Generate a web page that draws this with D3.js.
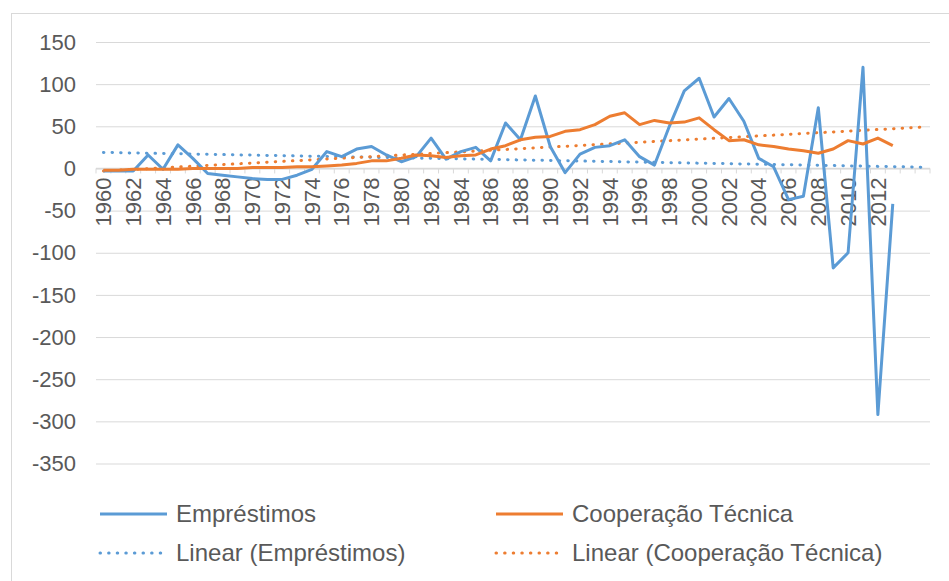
<!DOCTYPE html>
<html>
<head>
<meta charset="utf-8">
<script src="https://cdn.jsdelivr.net/npm/d3@7"></script>
<style>
  html, body { margin: 0; padding: 0; background: #fff; }
  svg { display: block; font-family: "Liberation Sans", Arial, sans-serif; }
</style>
</head>
<body>
<div id="chart"></div>
<script>
// categories: 1960..2015 (last two have no data, only trend)
const years = [1960,1961,1962,1963,1964,1965,1966,1967,1968,1969,
  1970,1971,1972,1973,1974,1975,1976,1977,1978,1979,
  1980,1981,1982,1983,1984,1985,1986,1987,1988,1989,
  1990,1991,1992,1993,1994,1995,1996,1997,1998,1999,
  2000,2001,2002,2003,2004,2005,2006,2007,2008,2009,
  2010,2011,2012,2013,2014,2015];

const emprestimos = [-3,-3,-3,16,-1,28,12,-6,-8,-10,
  -12,-13,-13,-8,-1,20,14,23,26,16,
  8,14,36,11,20,25,9,54,34,86,
  26,-5,17,25,27,34,14,4,50,92,
  107,61,83,56,12,2,-37,-33,72,-118,
  -100,120,-292,-42,null,null];

const cooperacao = [-2,-2,-1,-1,-1,-1,0,0,0,0,
  1,1,1,2,2,3,4,6,9,9,
  12,16,15,13,15,16,23,27,34,37,
  38,44,46,52,62,66,52,57,54,55,
  60,46,33,34,28,26,23,21,18,23,
  33,29,36,27,null,null];

// trend line end points
const trendYears = [1960, 2015];
const trendEmprestimos = [19, 1.5];
const trendCooperacao = [-3, 49];

const yTicks = [150,100,50,0,-50,-100,-150,-200,-250,-300,-350];
const xTickLabels = years.map(y => (y % 2 === 0 && y <= 2012) ? String(y) : '');

const W = 949, H = 581;
const blue = '#5B9BD5', orange = '#ED7D31';
const textColor = '#595959', gridColor = '#d9d9d9';

const svg = d3.select('#chart').append('svg')
  .attr('width', W).attr('height', H);

// chart area border
svg.append('rect')
  .attr('x', 11.5).attr('y', 13.5)
  .attr('width', 960).attr('height', 600)
  .attr('fill', 'none').attr('stroke', gridColor).attr('stroke-width', 1);

const x = d3.scaleBand().domain(years).range([96, 930]);
const y = d3.scaleLinear().domain([-350, 150]).range([463.5, 42]);
const cx = d => x(d) + x.bandwidth() / 2;

// grid lines
svg.append('g')
  .attr('transform', 'translate(96,0)')
  .call(d3.axisLeft(y).tickValues(yTicks).tickSize(-834).tickFormat(''))
  .call(g => g.select('.domain').remove())
  .selectAll('line').attr('stroke', gridColor).attr('stroke-width', 1);

// y labels
svg.append('g').selectAll('text')
  .data(yTicks).enter().append('text')
  .attr('x', 76).attr('y', d => y(d))
  .attr('dy', '0.35em')
  .attr('text-anchor', 'end')
  .attr('font-size', 22)
  .attr('fill', textColor)
  .text(d => d);

// category axis at zero
const y0 = y(0);
svg.append('line')
  .attr('x1', 96).attr('x2', 930).attr('y1', y0).attr('y2', y0)
  .attr('stroke', gridColor).attr('stroke-width', 1.5);

svg.append('g').selectAll('line')
  .data(years.concat(['end'])).enter().append('line')
  .attr('x1', d => d === 'end' ? 930 : x(d))
  .attr('x2', d => d === 'end' ? 930 : x(d))
  .attr('y1', y0).attr('y2', y0 + 5)
  .attr('stroke', gridColor).attr('stroke-width', 1);

svg.append('g').selectAll('text')
  .data(years).enter().append('text')
  .attr('transform', d => `translate(${cx(d)},${y0 + 9}) rotate(-90)`)
  .attr('dy', '0.35em')
  .attr('text-anchor', 'end')
  .attr('font-size', 22)
  .attr('fill', textColor)
  .text((d, i) => xTickLabels[i]);

// trend lines
const trendLine = d3.line().x(d => cx(d[0])).y(d => y(d[1]));
function drawTrend(vals, color) {
  svg.append('path')
    .datum(trendYears.map((yr, i) => [yr, vals[i]]))
    .attr('d', trendLine)
    .attr('fill', 'none')
    .attr('stroke', color)
    .attr('stroke-width', 3)
    .attr('stroke-linecap', 'round')
    .attr('stroke-dasharray', '0.5 8.1');
}

// series lines
const line = d3.line()
  .defined(d => d[1] !== null)
  .x(d => cx(d[0])).y(d => y(d[1]));
function drawSeries(vals, color) {
  svg.append('path')
    .datum(years.map((yr, i) => [yr, vals[i]]))
    .attr('d', line)
    .attr('fill', 'none')
    .attr('stroke', color)
    .attr('stroke-width', 3)
    .attr('stroke-linejoin', 'round');
}

drawTrend(trendEmprestimos, blue);
drawTrend(trendCooperacao, orange);
drawSeries(emprestimos, blue);
drawSeries(cooperacao, orange);

// legend
const legend = [
  { label: 'Empréstimos', color: blue, dotted: false, x: 100, y: 514 },
  { label: 'Cooperação Técnica', color: orange, dotted: false, x: 496, y: 514 },
  { label: 'Linear (Empréstimos)', color: blue, dotted: true, x: 100, y: 553 },
  { label: 'Linear (Cooperação Técnica)', color: orange, dotted: true, x: 496, y: 553 }
];
const lg = svg.append('g').selectAll('g').data(legend).enter().append('g');
lg.append('line')
  .attr('x1', d => d.x).attr('x2', d => d.x + 67)
  .attr('y1', d => d.y).attr('y2', d => d.y)
  .attr('stroke', d => d.color)
  .attr('stroke-width', 3)
  .attr('stroke-linecap', d => d.dotted ? 'round' : 'butt')
  .attr('stroke-dasharray', d => d.dotted ? '0.5 8.1' : null);
lg.append('text')
  .attr('x', d => d.x + 76).attr('y', d => d.y)
  .attr('dy', '0.35em')
  .attr('font-size', 24)
  .attr('fill', textColor)
  .text(d => d.label);
</script>
</body>
</html>
